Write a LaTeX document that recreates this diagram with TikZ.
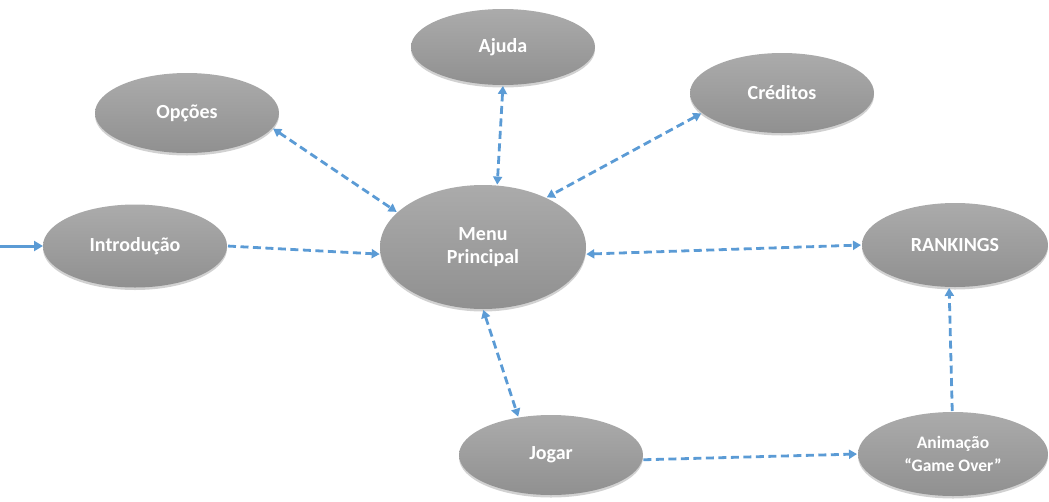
\documentclass[tikz,border=0pt]{standalone}
\usepackage{fontspec}
\setmainfont{Carlito}
\usetikzlibrary{shapes.geometric,arrows.meta,shadows}
\definecolor{gtop}{HTML}{ABABAB}
\definecolor{gbot}{HTML}{909090}
\definecolor{lnk}{HTML}{5B9BD5}
\tikzset{
  stnode/.style={ellipse, inner sep=0pt, outer sep=0pt,
    top color=gtop, bottom color=gbot, draw=none,
    drop shadow={opacity=0.18, shadow xshift=0pt, shadow yshift=-2.5pt, fill=black},
    text=white, font=\fontsize{20}{23}\selectfont\bfseries, align=center},
  lnkarrow/.style={draw=lnk, line width=2.8pt, dash pattern=on 8pt off 4.5pt,
    shorten >=1pt, shorten <=1pt},
  tip/.tip={Triangle[length=8pt,width=9pt]},
  bothways/.style={lnkarrow, {tip}-{tip}},
  oneway/.style={lnkarrow, -{tip}},
}
\begin{document}
\begin{tikzpicture}[x=1pt,y=-1pt]
\useasboundingbox (0,0) rectangle (1049,501);
\node[stnode, minimum width=184pt, minimum height=76pt] (ajuda) at (503,47) {Ajuda};
\node[stnode, minimum width=184pt, minimum height=80pt] (cred) at (782,93) {Créditos};
\node[stnode, minimum width=184pt, minimum height=80pt] (opc) at (187,113) {Opções};
\node[stnode, minimum width=184pt, minimum height=83pt] (intro) at (135,246) {Introdução};
\node[stnode, minimum width=206pt, minimum height=124pt] (menu) at (483,247) {Menu\\Principal};
\node[stnode, minimum width=186pt, minimum height=84pt] (rank) at (955,245) {RANKINGS};
\node[stnode, minimum width=184pt, minimum height=80pt] (jogar) at (551,455) {Jogar};
\node[stnode, minimum width=190pt, minimum height=84pt, font=\fontsize{17.5}{23}\selectfont\bfseries] (anim) at (953,454) {Animação\\“Game Over”};
\coordinate (entry) at (0,246);
\draw[draw=lnk, line width=3pt, -{Triangle[length=9pt,width=10pt]}] (entry) -- (intro.west);
\draw[oneway] (intro.0) -- (menu.-176);
\draw[bothways] (opc.-10) -- (menu.158);
\draw[bothways] (ajuda.-90) -- (menu.77);
\draw[bothways] (cred.-166) -- (menu.38);
\draw[bothways] (menu.-4) -- (rank.180);
\draw[bothways] (menu.-90) -- (jogar.131);
\draw[oneway] (jogar.-3) -- (anim.180);
\draw[oneway] (anim.91) -- (rank.-98);
\end{tikzpicture}
\end{document}
